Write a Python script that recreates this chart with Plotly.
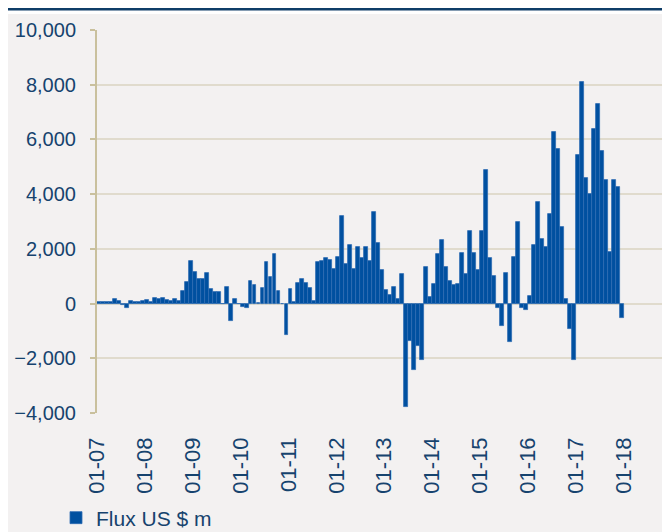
import pandas as pd
import plotly.graph_objects as go

# ---- data (monthly flows, US$ m, Jan 2007 .. Dec 2017) ----
start_month = "2007-01-01"
flux_2007 = [60, 50, 60, 70, 180, 80, -60, -150, 100, 70, 60, 80]
flux_2008 = [120, 70, 200, 160, 210, 120, 90, 170, 100, 450, 780, 1560]
flux_2009 = [1150, 900, 900, 1100, 530, 430, 430, -30, 620, -650, 180, -20]
flux_2010 = [-120, -150, 830, 670, 30, 585, 1525, 975, 1820, 460, -30, -1150]
flux_2011 = [525, 50, 770, 915, 770, 585, 80, 1525, 1560, 1660, 1585, 1280]
flux_2012 = [1720, 3210, 1440, 2135, 1280, 2060, 1680, 2060, 1560, 3355, 2230, 1230]
flux_2013 = [500, 320, 600, 170, 1085, -3790, -1350, -2415, -1540, -2060, 1330, 230]
flux_2014 = [720, 1820, 2330, 1355, 840, 680, 720, 1840, 1085, 2670, 1855, 1210]
flux_2015 = [2635, 4870, 1660, 1025, -170, -830, 1110, -1415, 1700, 3000, -170, -220]
flux_2016 = [280, 2150, 3700, 2355, 2075, 3270, 6260, 5650, 2800, 160, -940, -2075]
flux_2017 = [5440, 8090, 4590, 4000, 6380, 7300, 5560, 4510, 1870, 4510, 4250, -510]

series_name = "Flux US $ m"
y_ticks = [-4000, -2000, 0, 2000, 4000, 6000, 8000, 10000]
x_tick_years = list(range(2007, 2019))

flux = (flux_2007 + flux_2008 + flux_2009 + flux_2010 + flux_2011 + flux_2012
        + flux_2013 + flux_2014 + flux_2015 + flux_2016 + flux_2017)
months = pd.date_range(start_month, periods=len(flux), freq="MS")
x_tickvals = [pd.Timestamp(f"{y}-01-01") for y in x_tick_years]

# ---- style ----
# the page body adds an 8px offset, so the figure is laid out 8px up/left
W, H = 670, 532
ML, MR, MT, MB = 89, 8, 22, 127
BG = "#f3f1f1"
BAR = "#0050a0"
TXT = "#16436e"
BEIGE = "#c9c09d"
GRID = "#e0dbcd"
NAVY = "#0f3d68"
FONT = "Liberation Sans, Arial, sans-serif"
ymin, ymax = -4000, 10000
x_range = ["2007-01-01", "2018-12-20"]

plot_h = H - MT - MB
plot_w = W - ML - MR


def py2paper(py):
    return (H - MB - py) / plot_h


fig = go.Figure()
fig.add_trace(go.Bar(
    x=months, y=flux, name=series_name,
    xperiod="M1", xperiodalignment="middle",
    marker=dict(color=BAR, line=dict(color="#2f6cb3", width=0.8)),
    showlegend=True,
))

fig.update_layout(
    width=W, height=H,
    margin=dict(l=ML, r=MR, t=MT, b=MB, autoexpand=False),
    paper_bgcolor=BG, plot_bgcolor=BG,
    bargap=0.0,
    font=dict(family=FONT, size=20, color=TXT),
    xaxis=dict(
        type="date", range=x_range,
        tickvals=x_tickvals, tickformat="%m-%y", tickangle=-90,
        showgrid=False, zeroline=False, showline=False, ticks="",
        ticklabelstandoff=19,
        tickfont=dict(size=22, color=TXT),
    ),
    xaxis2=dict(
        type="date", range=x_range, overlaying="x", matches="x",
        anchor="free", position=(0 - ymin) / (ymax - ymin),
        tickvals=x_tickvals, showticklabels=False,
        ticks="outside", ticklen=7, tickwidth=2, tickcolor=BEIGE,
        showline=True, linecolor=BEIGE, linewidth=3,
        showgrid=False, zeroline=False, layer="above traces",
    ),
    yaxis=dict(
        range=[ymin, ymax], tickvals=y_ticks, tickformat=",",
        showgrid=True, gridcolor=GRID, gridwidth=2,
        zeroline=False,
        showline=True, linecolor=BEIGE, linewidth=2,
        ticks="outside", ticklen=5, tickwidth=2, tickcolor=BEIGE,
        ticklabelstandoff=10,
        tickfont=dict(size=20, color=TXT),
    ),
    legend=dict(
        orientation="h", x=-41 / plot_w, y=py2paper(510),
        xanchor="left", yanchor="middle",
        bgcolor="rgba(0,0,0,0)", font=dict(size=21, color=TXT),
        itemwidth=30,
    ),
    shapes=[
        dict(type="rect", xref="paper", yref="paper",
             x0=-ML / plot_w, x1=(plot_w + MR) / plot_w,
             y0=py2paper(6), y1=py2paper(-4),
             fillcolor="white", line=dict(width=0), layer="below"),
        dict(type="line", xref="paper", yref="paper",
             x0=-ML / plot_w, x1=(plot_w + MR) / plot_w,
             y0=py2paper(0.5), y1=py2paper(0.5),
             line=dict(color=NAVY, width=4)),
    ],
)

fig.write_html("out.html")
